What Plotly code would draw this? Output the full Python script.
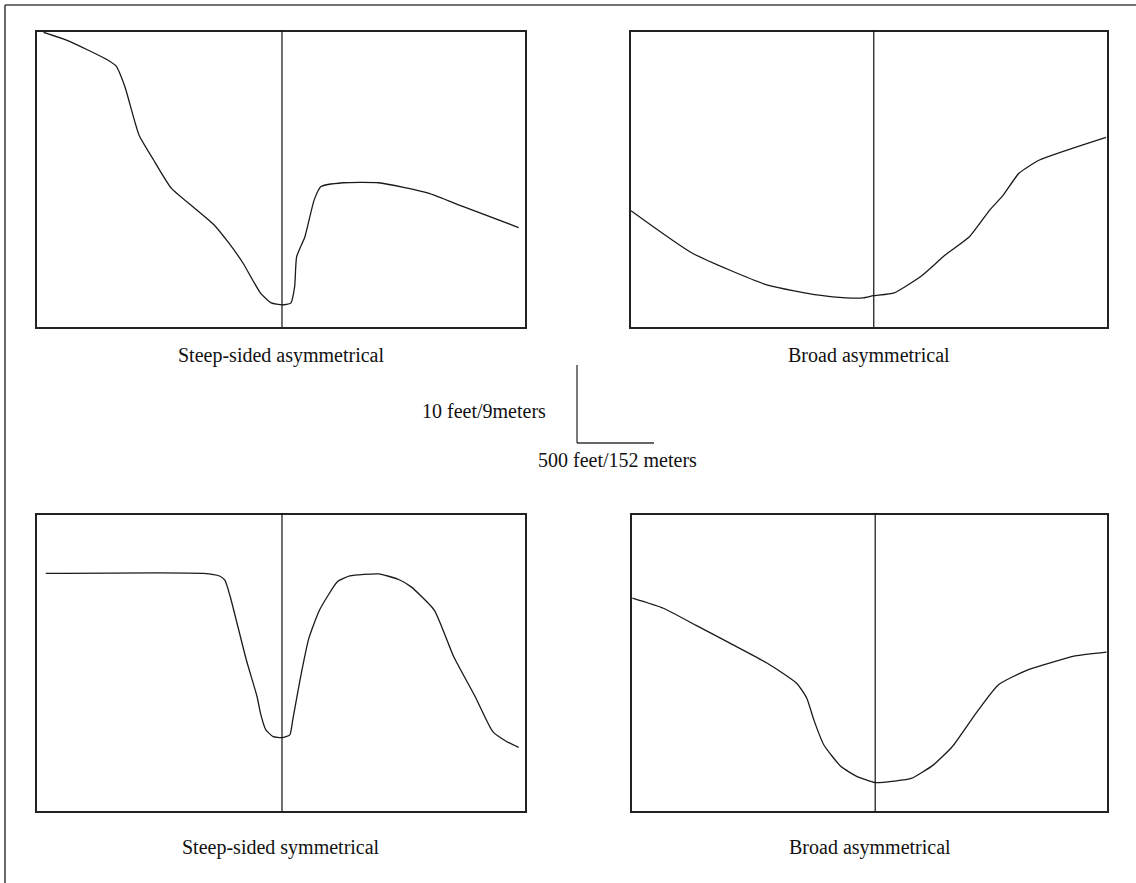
import plotly.graph_objects as go

W, H = 1136, 883

# ---- data (normalized profile units: x 0-100 across panel, y 0-100 bottom->top)
p1_x = [1.35, 6.3, 14.3, 16.2, 18.0, 20.9, 23.9, 27.5, 32.0, 36.3, 39.3, 42.2, 45.8, 48.0,
        50.2, 52.0, 52.8, 53.2, 54.9, 56.8, 58.2, 62.7, 70.0, 80.2, 87.5, 98.7]
p1_y = [99.9, 97.1, 90.7, 88.5, 81.5, 65.1, 56.6, 47.1, 40.7, 34.6, 28.5, 21.7, 11.5, 8.2,
        7.5, 8.1, 13.7, 23.8, 30.6, 43.1, 47.6, 48.9, 48.9, 45.4, 40.7, 33.7]

p2_x = [0.0, 12.9, 28.7, 39.5, 45.2, 48.8, 50.9, 55.3, 61.0, 66.0, 71.1, 75.4, 78.2, 81.5, 85.8, 99.8]
p2_y = [39.4, 25.0, 14.2, 10.8, 9.9, 9.9, 10.6, 11.6, 17.3, 24.4, 30.6, 39.7, 44.7, 52.1, 56.6, 64.3]

p3_x = [1.8, 34.1, 37.4, 38.5, 39.6, 42.9, 45.1, 45.8, 46.9, 48.4, 50.2, 51.8, 52.4, 53.9, 55.7,
        57.9, 61.6, 64.1, 70.0, 74.0, 76.6, 81.4, 85.4, 89.8, 93.4, 96.3, 98.7]
p3_y = [80.3, 80.3, 79.4, 78.0, 72.4, 51.0, 38.6, 33.0, 27.4, 25.1, 24.8, 25.7, 30.7, 44.3, 58.3,
        67.9, 77.5, 79.4, 80.1, 78.3, 75.8, 67.9, 52.1, 38.6, 26.8, 23.4, 21.5]

p4_x = [0.1, 6.6, 13.4, 20.6, 28.5, 34.7, 36.8, 38.3, 40.4, 44.0, 47.2, 51.2, 55.2, 58.8, 63.4,
        67.4, 72.4, 77.1, 83.2, 93.3, 99.9]
p4_y = [71.9, 68.5, 62.8, 56.7, 49.9, 43.1, 38.1, 30.7, 22.3, 15.0, 11.8, 9.6, 10.1, 11.0, 15.5,
        21.7, 33.0, 42.6, 47.6, 52.4, 53.7]

centers = [50.2, 51.0, 50.2, 51.2]
labels = ["Steep-sided asymmetrical", "Broad asymmetrical",
          "Steep-sided symmetrical", "Broad asymmetrical"]
scale_v_label = "10 feet/9meters"
scale_h_label = "500 feet/152 meters"

series = [(p1_x, p1_y), (p2_x, p2_y), (p3_x, p3_y), (p4_x, p4_y)]

# panel boxes in pixels (left, right, top, bottom) and label rows
boxes = [(37, 525, 32, 327), (631, 1107, 32, 327), (37, 525, 515, 811), (632, 1107, 515, 811)]
label_rows = [355, 355, 847, 847]

def px(x):
    return x / W

def py(y):
    return 1 - y / H

fig = go.Figure()
line_col = "#1a1a1a"
font = dict(family="Liberation Serif, Times New Roman, serif", size=20, color="#111")

for i, ((xs, ys), (l, r, t, b)) in enumerate(zip(series, boxes)):
    n = "" if i == 0 else str(i + 1)
    fig.add_trace(go.Scatter(x=xs, y=ys, mode="lines", xaxis="x" + n, yaxis="y" + n,
                             line=dict(color=line_col, width=1.3, shape="spline", smoothing=0.5),
                             showlegend=False, hoverinfo="skip"))
    ax = dict(domain=[px(l), px(r)], range=[0, 100], showgrid=False, zeroline=False,
              showticklabels=False, ticks="", showline=True, mirror=True,
              linecolor="#222", linewidth=1.6, fixedrange=True)
    ay = dict(domain=[py(b), py(t)], range=[0, 100], showgrid=False, zeroline=False,
              showticklabels=False, ticks="", showline=True, mirror=True,
              linecolor="#222", linewidth=1.6, fixedrange=True)
    ax["anchor"] = "y" + n
    ay["anchor"] = "x" + n
    fig.layout["xaxis" + n] = ax
    fig.layout["yaxis" + n] = ay
    # center line
    fig.add_shape(type="line", xref="x" + n, yref="paper",
                  x0=centers[i], x1=centers[i], y0=py(b), y1=py(t - 2),
                  line=dict(color="#111", width=1.2))
    # label
    fig.add_annotation(x=(px(l) + px(r)) / 2, y=py(label_rows[i]), xref="paper", yref="paper",
                       text=labels[i], showarrow=False, font=font,
                       xanchor="center", yanchor="middle")

# outer frame (top & left edges)
fig.add_shape(type="line", xref="paper", yref="paper", x0=px(5), x1=1.0, y0=py(5), y1=py(5),
              line=dict(color="#444", width=1.6))
fig.add_shape(type="line", xref="paper", yref="paper", x0=px(5), x1=px(5), y0=0, y1=py(5),
              line=dict(color="#444", width=1.6))

# scale bar
fig.add_shape(type="line", xref="paper", yref="paper", x0=px(577), x1=px(577), y0=py(365), y1=py(443),
              line=dict(color="#333", width=1.3))
fig.add_shape(type="line", xref="paper", yref="paper", x0=px(577), x1=px(654), y0=py(443), y1=py(443),
              line=dict(color="#333", width=1.3))
fig.add_annotation(x=px(548), y=py(411), xref="paper", yref="paper", text=scale_v_label,
                   showarrow=False, font=font, xanchor="right", yanchor="middle")
fig.add_annotation(x=px(617), y=py(460), xref="paper", yref="paper", text=scale_h_label,
                   showarrow=False, font=font, xanchor="center", yanchor="middle")

fig.update_layout(width=W, height=H, margin=dict(l=0, r=0, t=0, b=0),
                  paper_bgcolor="white", plot_bgcolor="white", showlegend=False)

fig.write_html("out.html", config={"displayModeBar": False},
               post_script="document.body.style.margin='0';document.body.style.padding='0';document.body.style.overflow='hidden';")
